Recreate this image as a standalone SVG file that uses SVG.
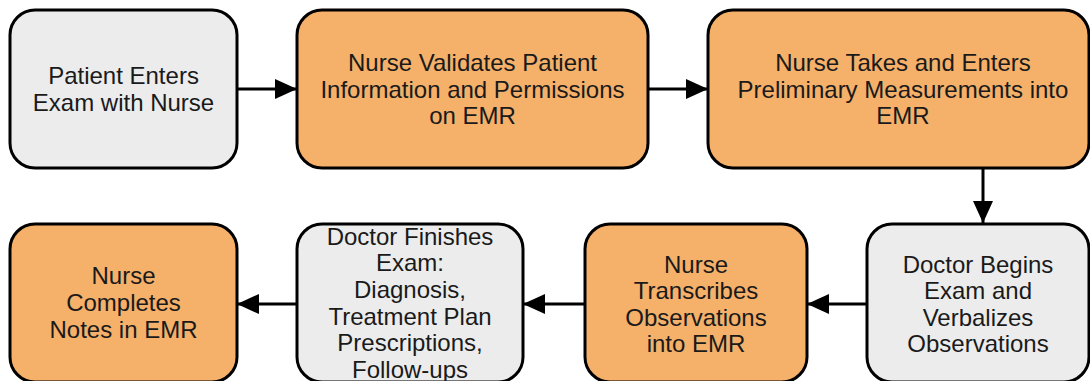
<svg xmlns="http://www.w3.org/2000/svg" width="1090" height="381" viewBox="0 0 1090 381">
  <defs>
    <marker id="arrow" markerUnits="userSpaceOnUse" markerWidth="22" markerHeight="20" refX="22" refY="10" orient="auto">
      <path d="M0,0 L22,10 L0,20 Z" fill="#000"/>
    </marker>
    <style>
      .box { stroke: #000; stroke-width: 3; }
      .gray { fill: #ececec; }
      .orange { fill: #f5b06a; }
      .label { font-family: "Liberation Sans", Arial, sans-serif; font-size: 24px; fill: #1a1a1a; text-anchor: middle; }
      .edge { stroke: #000; stroke-width: 3; fill: none; marker-end: url(#arrow); }
    </style>
  </defs>
  <rect width="1090" height="381" fill="#ffffff"/>

  <!-- connectors -->
  <g id="connectors">
    <line class="edge" x1="237" y1="89" x2="297" y2="89"/>
    <line class="edge" x1="648" y1="89" x2="708" y2="89"/>
    <line class="edge" x1="983" y1="168" x2="983" y2="223"/>
    <line class="edge" x1="867" y1="304" x2="807" y2="304"/>
    <line class="edge" x1="585" y1="304" x2="523" y2="304"/>
    <line class="edge" x1="297" y1="304" x2="237" y2="304"/>
  </g>

  <!-- top row -->
  <g id="patient-enters">
    <rect class="box gray" x="10" y="10" width="227" height="158" rx="25"/>
    <text class="label"><tspan x="123.5" y="84">Patient Enters</tspan><tspan x="123.5" y="110.5">Exam with Nurse</tspan></text>
  </g>
  <g id="nurse-validates">
    <rect class="box orange" x="297" y="10" width="351" height="158" rx="25"/>
    <text class="label"><tspan x="472.5" y="71">Nurse Validates Patient</tspan><tspan x="472.5" y="97.7">Information and Permissions</tspan><tspan x="472.5" y="124.4">on EMR</tspan></text>
  </g>
  <g id="nurse-measures">
    <rect class="box orange" x="708" y="10" width="381" height="158" rx="25"/>
    <text class="label"><tspan x="903" y="71">Nurse Takes and Enters</tspan><tspan x="903" y="97.7">Preliminary Measurements into</tspan><tspan x="903" y="124.4">EMR</tspan></text>
  </g>

  <!-- bottom row -->
  <g id="doctor-begins">
    <rect class="box gray" x="867" y="224" width="222" height="158" rx="25"/>
    <text class="label"><tspan x="978" y="272.5">Doctor Begins</tspan><tspan x="978" y="299">Exam and</tspan><tspan x="978" y="325.5">Verbalizes</tspan><tspan x="978" y="352">Observations</tspan></text>
  </g>
  <g id="nurse-transcribes">
    <rect class="box orange" x="585" y="224" width="222" height="158" rx="25"/>
    <text class="label"><tspan x="696" y="272.5">Nurse</tspan><tspan x="696" y="299">Transcribes</tspan><tspan x="696" y="325.5">Observations</tspan><tspan x="696" y="352">into EMR</tspan></text>
  </g>
  <g id="doctor-finishes">
    <rect class="box gray" x="297" y="224" width="226" height="158" rx="25"/>
    <text class="label"><tspan x="410" y="244.5">Doctor Finishes</tspan><tspan x="410" y="271.2">Exam:</tspan><tspan x="410" y="297.9">Diagnosis,</tspan><tspan x="410" y="324.6">Treatment Plan</tspan><tspan x="410" y="351.3">Prescriptions,</tspan><tspan x="410" y="378">Follow-ups</tspan></text>
  </g>
  <g id="nurse-completes">
    <rect class="box orange" x="10" y="224" width="227" height="158" rx="25"/>
    <text class="label"><tspan x="123.5" y="284">Nurse</tspan><tspan x="123.5" y="310.5">Completes</tspan><tspan x="123.5" y="337.5">Notes in EMR</tspan></text>
  </g>
</svg>
